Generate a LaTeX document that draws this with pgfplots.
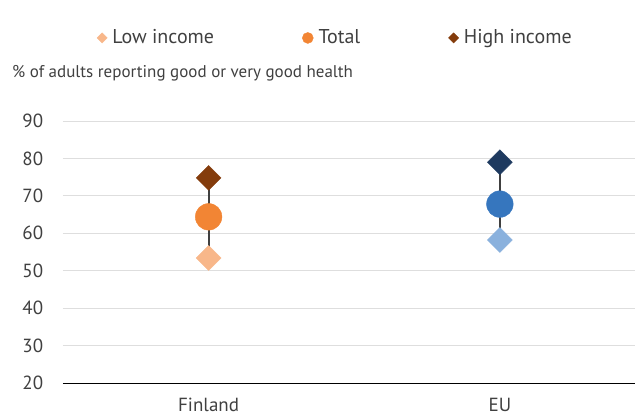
\documentclass[border=0pt]{standalone}
\usepackage{fontspec}
\setmainfont{PT Sans}
\usepackage{pgfplots}
\pgfplotsset{compat=1.18}
\definecolor{finlow}{HTML}{F8B78A}
\definecolor{fintot}{HTML}{F28534}
\definecolor{finhigh}{HTML}{843C0C}
\definecolor{eulow}{HTML}{8AB1DD}
\definecolor{eutot}{HTML}{3676BE}
\definecolor{euhigh}{HTML}{1E3A5F}
\definecolor{txt}{HTML}{404040}
\begin{document}
\fontsize{17bp}{20bp}\selectfont
\begin{tikzpicture}
\clip (-63bp,-33bp) rectangle (572bp,383bp);
\useasboundingbox (-63bp,-33bp) rectangle (572bp,383bp);
\begin{axis}[
  at={(0,0)}, anchor=south west,
  scale only axis, width=572bp, height=262bp,
  xmin=-0.5, xmax=1.464, ymin=20, ymax=90,
  ytick={20,30,...,90}, xtick={0,1}, xticklabels={Finland,EU},
  axis y line*=left, axis x line*=bottom,
  y axis line style={draw=none}, x axis line style={black, line width=0.9bp},
  major tick length=0pt,
  ymajorgrids, grid style={draw=black!13, line width=0.9bp},
  /pgf/number format/assume math mode=true,
  tick label style={font=\fontsize{19bp}{22bp}\selectfont, text=txt},
  yticklabel style={xshift=-14bp},
  xticklabel style={yshift=-9bp},
  clip=false,
  legend columns=3,
  legend style={at={(0.476,1.317)}, anchor=center, draw=none, fill=none,
    font=\fontsize{20bp}{23bp}\selectfont, text=txt,
    /tikz/every odd column/.append style={column sep=3bp},
    /tikz/every even column/.append style={column sep=86bp}},
  legend cell align=left,
]
% connecting lines
\addplot[forget plot, draw=txt, line width=1.8bp] coordinates {(0,53.4) (0,74.8)};
\addplot[forget plot, draw=txt, line width=1.8bp] coordinates {(1,58.2) (1,79.0)};
% Finland
\addplot[only marks, mark=square*, mark size=8.8bp, mark options={rotate=45, fill=finlow, draw=finlow},
  legend image code/.code={\draw[fill=finlow, draw=finlow, rotate=45] (0bp,0bp) ++(-3.6bp,-3.6bp) rectangle ++(7.2bp,7.2bp);}]
  coordinates {(0,53.4)};
\addlegendentry{Low income}
\addplot[only marks, mark=*, mark size=13.3bp, mark options={fill=fintot, draw=fintot},
  legend image code/.code={\fill[fintot] (0bp,0bp) circle (5.5bp);}]
  coordinates {(0,64.4)};
\addlegendentry{Total}
\addplot[only marks, mark=square*, mark size=8.8bp, mark options={rotate=45, fill=finhigh, draw=finhigh},
  legend image code/.code={\draw[fill=finhigh, draw=finhigh, rotate=45] (0bp,0bp) ++(-3.6bp,-3.6bp) rectangle ++(7.2bp,7.2bp);}]
  coordinates {(0,74.8)};
\addlegendentry{High income}
% EU
\addplot[forget plot, only marks, mark=square*, mark size=8.8bp, mark options={rotate=45, fill=eulow, draw=eulow}]
  coordinates {(1,58.2)};
\addplot[forget plot, only marks, mark=*, mark size=13.3bp, mark options={fill=eutot, draw=eutot}]
  coordinates {(1,67.8)};
\addplot[forget plot, only marks, mark=square*, mark size=8.8bp, mark options={rotate=45, fill=euhigh, draw=euhigh}]
  coordinates {(1,79.0)};
\end{axis}
\node[anchor=west, inner sep=0pt, text=txt] at (-51bp,310bp) {\fontsize{17bp}{20bp}\selectfont\% of adults reporting good or very good health};
\end{tikzpicture}
\end{document}
